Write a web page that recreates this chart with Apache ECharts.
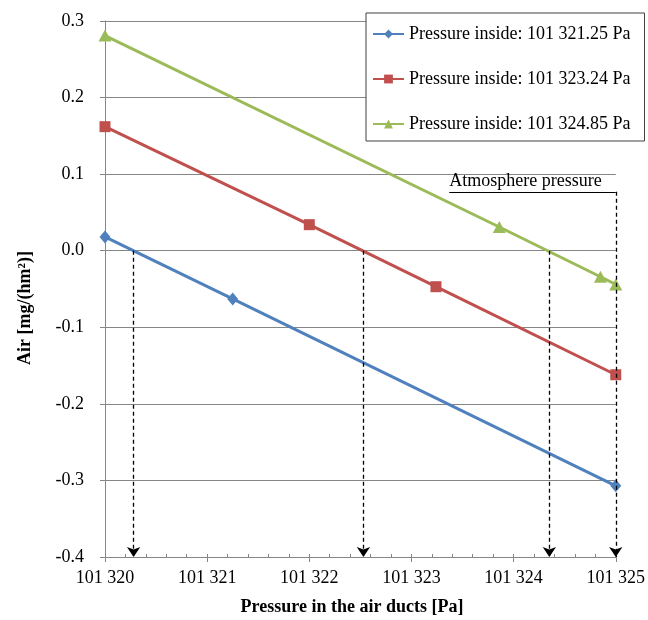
<!DOCTYPE html>
<html>
<head>
<meta charset="utf-8">
<script src="https://cdn.jsdelivr.net/npm/echarts@6/dist/echarts.min.js"></script>
<style>html,body{margin:0;padding:0;background:#fff}#c{width:648px;height:620px}</style>
</head>
<body>
<div id="c"></div>
<script>
// ---- data ----
const seriesNames = ['Pressure inside: 101 321.25 Pa', 'Pressure inside: 101 323.24 Pa', 'Pressure inside: 101 324.85 Pa'];
const blueX = [101320, 101321.25, 101325];
const blueY = [0.018, -0.063, -0.307];
const redX = [101320, 101322, 101323.24, 101325];
const redY = [0.162, 0.034, -0.047, -0.162];
const greenX = [101320, 101323.86, 101324.85, 101325];
const greenY = [0.281, 0.031, -0.034, -0.044];
const zeroCrossX = [101320.28, 101322.53, 101324.35];
const atmX = 101325;
const atmY = 0.077;
const atmLabelStartX = 101323.37;
const atmLabel = 'Atmosphere pressure';
const xTitle = 'Pressure in the air ducts [Pa]';
const yTitle = 'Air [mg/(hm²)]';
const xMin = 101320, xMax = 101325, yMin = -0.4, yMax = 0.3;

const pairs = (xs, ys) => xs.map((x, i) => [x, ys[i]]);
const serif = 'Liberation Serif, Times New Roman, serif';
const gray = '#868686';
const fs = 18;

const arrowLines = zeroCrossX.map(x => [{coord: [x, 0]}, {coord: [x, yMin]}]);
const markData = arrowLines.concat([
  [{coord: [atmLabelStartX, atmY], symbol: 'none', lineStyle: {type: 'solid', width: 1},
    label: {show: true, formatter: atmLabel, position: 'insideStartTop', distance: [0, 1],
            color: '#000', fontFamily: serif, fontSize: fs}},
   {coord: [atmX, atmY], symbol: 'none'}],
  [{coord: [atmX, atmY]}, {coord: [atmX, yMin]}]
]);

const chart = echarts.init(document.getElementById('c'), null, {renderer: 'canvas'});
chart.setOption({
  animation: false,
  backgroundColor: '#fff',
  grid: {left: 105, right: 32, top: 21, bottom: 63},
  legend: {
    orient: 'vertical', left: 366, top: 13,
    data: seriesNames,
    padding: [12, 14, 8, 6],
    itemWidth: 31, itemHeight: 11, itemGap: 27,
    borderColor: '#404040', borderWidth: 1, backgroundColor: '#fff',
    textStyle: {fontFamily: serif, fontSize: fs, color: '#000'}
  },
  xAxis: [{
    type: 'value', min: xMin, max: xMax, interval: 1,
    axisLine: {show: true, onZero: false, lineStyle: {color: gray, width: 1}},
    axisTick: {show: true, length: 5, lineStyle: {color: gray}},
    splitLine: {show: false},
    axisLabel: {margin: 12, color: '#000', fontFamily: serif, fontSize: fs,
      formatter: v => Math.floor(v / 1000) + ' ' + String(Math.round(v % 1000)).padStart(3, '0')}
  }, {
    type: 'value', min: xMin, max: xMax, interval: 0.2, position: 'bottom',
    axisLine: {show: false, onZero: false},
    axisTick: {show: true, inside: true, length: 3, lineStyle: {color: gray}},
    axisLabel: {show: false}, splitLine: {show: false}
  }],
  yAxis: {
    type: 'value', min: yMin, max: yMax, interval: 0.1,
    axisLine: {show: true, onZero: false, lineStyle: {color: gray, width: 1}},
    axisTick: {show: true, length: 5, lineStyle: {color: gray}},
    splitLine: {show: true, lineStyle: {color: gray, width: 1}},
    axisLabel: {margin: 21, color: '#000', fontFamily: serif, fontSize: fs,
      formatter: v => v.toFixed(1)}
  },
  series: [
    {name: seriesNames[0], type: 'line', data: pairs(blueX, blueY), symbol: 'diamond', symbolSize: [11, 13],
     itemStyle: {color: '#4F81BD'}, lineStyle: {width: 3, color: '#4F81BD'}, z: 3},
    {name: seriesNames[1], type: 'line', data: pairs(redX, redY), symbol: 'rect', symbolSize: 11,
     itemStyle: {color: '#C0504D'}, lineStyle: {width: 3, color: '#C0504D'}, z: 3},
    {name: seriesNames[2], type: 'line', data: pairs(greenX, greenY), symbol: 'triangle', symbolSize: [13, 12],
     itemStyle: {color: '#9BBB59'}, lineStyle: {width: 3, color: '#9BBB59'}, z: 3},
    {name: 'annot', type: 'line', data: [], z: 4,
     markLine: {silent: true, symbol: ['none', 'arrow'], symbolSize: 10,
       lineStyle: {color: '#000', type: [4, 3], width: 1.3},
       itemStyle: {color: '#000'},
       label: {show: false},
       data: markData}}
  ],
  graphic: [
    {type: 'text', x: 352, y: 607, style: {text: xTitle, font: 'bold ' + fs + 'px ' + serif, fill: '#000', textAlign: 'center', textVerticalAlign: 'middle'}},
    {type: 'text', x: 25, y: 308, rotation: Math.PI / 2, style: {text: yTitle, font: 'bold ' + fs + 'px ' + serif, fill: '#000', textAlign: 'center', textVerticalAlign: 'middle'}}
  ]
});
</script>
</body>
</html>
